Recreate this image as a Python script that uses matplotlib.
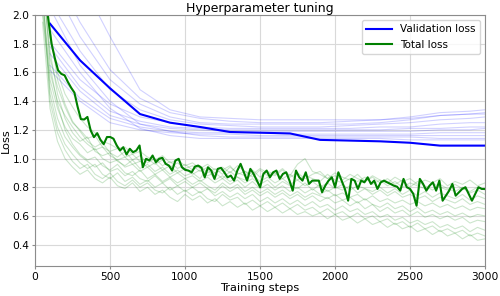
import matplotlib
matplotlib.use("Agg")
import matplotlib.pyplot as plt
import numpy as np

# validation loss, evaluated every 200 steps
val_steps = [100, 300, 500, 700, 900, 1100, 1300, 1500, 1700, 1900, 2100, 2300, 2500, 2700, 2900, 3000]
val_best = [1.94, 1.685, 1.49, 1.31, 1.25, 1.22, 1.185, 1.18, 1.175, 1.13, 1.125, 1.12, 1.11, 1.09, 1.09, 1.09]
val_runs = [
    [2.35, 1.95, 1.62, 1.42, 1.32, 1.28, 1.26, 1.25, 1.25, 1.25, 1.26, 1.27, 1.29, 1.32, 1.33, 1.34],
    [2.25, 1.85, 1.55, 1.38, 1.29, 1.25, 1.24, 1.24, 1.24, 1.24, 1.24, 1.25, 1.27, 1.30, 1.31, 1.32],
    [2.10, 1.75, 1.48, 1.34, 1.27, 1.24, 1.23, 1.22, 1.22, 1.22, 1.23, 1.24, 1.25, 1.27, 1.28, 1.29],
    [1.81, 1.55, 1.38, 1.29, 1.25, 1.22, 1.21, 1.21, 1.21, 1.21, 1.21, 1.22, 1.22, 1.24, 1.25, 1.25],
    [1.78, 1.50, 1.33, 1.26, 1.22, 1.21, 1.20, 1.20, 1.20, 1.20, 1.20, 1.20, 1.21, 1.21, 1.22, 1.22],
    [1.73, 1.47, 1.30, 1.24, 1.21, 1.20, 1.19, 1.19, 1.19, 1.19, 1.19, 1.19, 1.19, 1.20, 1.20, 1.21],
    [1.65, 1.42, 1.28, 1.22, 1.19, 1.18, 1.18, 1.18, 1.17, 1.17, 1.17, 1.17, 1.17, 1.18, 1.18, 1.18],
    [1.615, 1.40, 1.25, 1.20, 1.18, 1.17, 1.17, 1.16, 1.16, 1.16, 1.16, 1.16, 1.16, 1.16, 1.16, 1.16],
    [2.05, 1.65, 1.40, 1.24, 1.19, 1.16, 1.15, 1.15, 1.15, 1.15, 1.15, 1.15, 1.15, 1.14, 1.14, 1.14],
    [1.90, 1.60, 1.35, 1.21, 1.16, 1.14, 1.14, 1.14, 1.14, 1.14, 1.14, 1.14, 1.13, 1.13, 1.13, 1.13],
    [2.70, 2.25, 1.85, 1.48, 1.34, 1.29, 1.28, 1.27, 1.27, 1.27, 1.27, 1.27, 1.28, 1.30, 1.31, 1.31],
]

# total loss of the selected run
total_best = [
    2.15, 1.97, 1.80, 1.70, 1.615, 1.59, 1.58, 1.534, 1.494, 1.46, 1.36, 1.275, 1.272, 1.29, 1.196,
    1.149, 1.177, 1.13, 1.10, 1.15, 1.15,
    1.138, 1.091, 1.056, 1.079, 1.028, 1.068, 1.044, 1.056, 1.091, 0.939, 0.998, 0.986, 1.021, 0.974,
    0.998, 1.005, 0.963, 0.951, 0.916, 0.986, 0.998, 0.939, 0.921,
    0.916, 0.904, 0.944, 0.951, 0.935, 0.869, 0.939, 0.916, 0.858, 0.928, 0.935, 0.904, 0.869, 0.881,
    0.846, 0.916, 0.963, 0.904, 0.846, 0.928, 0.893, 0.846, 0.80,
    0.893, 0.916, 0.869, 0.904, 0.916, 0.858, 0.893, 0.904, 0.846, 0.776, 0.916, 0.869, 0.846, 0.904,
    0.823, 0.846, 0.846, 0.846, 0.765, 0.811, 0.846, 0.869, 0.80,
    0.904, 0.846, 0.788, 0.706, 0.858, 0.846, 0.788, 0.846, 0.834, 0.869, 0.823, 0.846, 0.788, 0.834,
    0.846, 0.834, 0.823, 0.811, 0.804, 0.776, 0.858, 0.80, 0.788,
    0.753, 0.671, 0.858, 0.823, 0.776, 0.811, 0.834, 0.776, 0.846, 0.706, 0.741, 0.776, 0.823, 0.741,
    0.765, 0.788, 0.80, 0.753, 0.706, 0.753, 0.80, 0.788, 0.788,
]
total_steps = np.linspace(67, 3000, len(total_best))

# total loss of the other runs, logged every 50 steps
run_steps = list(range(50, 3001, 50))
total_runs = [
    [2.40, 1.85, 1.60, 1.45, 1.36, 1.28, 1.22, 1.18, 1.12, 1.10, 1.07, 1.08, 1.03, 1.05, 1.01, 0.99, 1.02, 0.97, 0.99, 0.95,
     0.97, 0.93, 0.96, 0.92, 0.94, 0.90, 0.95, 0.91, 0.89, 0.93, 0.90, 0.88, 0.92, 0.87, 0.90, 0.86, 0.89, 0.91, 0.86, 0.88,
     0.85, 0.89, 0.86, 0.84, 0.88, 0.85, 0.83, 0.87, 0.84, 0.86, 0.82, 0.85, 0.83, 0.86, 0.81, 0.84, 0.82, 0.85, 0.81, 0.83],
    [2.25, 1.70, 1.50, 1.36, 1.25, 1.20, 1.14, 1.16, 1.08, 1.05, 1.07, 1.01, 1.03, 0.98, 1.00, 0.96, 0.99, 0.94, 0.97, 0.93,
     0.95, 0.91, 0.94, 0.90, 0.92, 0.95, 0.89, 0.91, 0.87, 0.92, 0.88, 0.90, 0.86, 0.89, 0.85, 0.88, 0.86, 0.84, 0.89, 0.85,
     0.83, 0.86, 0.84, 0.87, 0.82, 0.85, 0.81, 0.84, 0.80, 0.83, 0.81, 0.79, 0.83, 0.80, 0.78, 0.82, 0.79, 0.77, 0.80, 0.78],
    [2.10, 1.60, 1.40, 1.30, 1.22, 1.15, 1.10, 1.06, 1.08, 1.02, 0.99, 1.01, 0.96, 0.98, 0.94, 0.97, 0.92, 0.95, 0.90, 0.93,
     0.89, 0.92, 0.88, 0.90, 0.86, 0.91, 0.87, 0.85, 0.89, 0.84, 0.87, 0.83, 0.86, 0.82, 0.85, 0.81, 0.84, 0.80, 0.83, 0.79,
     0.82, 0.78, 0.81, 0.79, 0.77, 0.80, 0.76, 0.79, 0.75, 0.78, 0.74, 0.77, 0.73, 0.76, 0.74, 0.72, 0.75, 0.71, 0.74, 0.72],
    [2.30, 1.75, 1.45, 1.28, 1.18, 1.12, 1.15, 1.05, 1.02, 1.04, 0.98, 0.95, 0.99, 0.93, 0.96, 0.91, 0.94, 0.89, 0.92, 0.88,
     0.90, 0.86, 0.93, 0.85, 0.88, 0.84, 0.87, 0.83, 0.86, 0.82, 0.85, 0.80, 0.84, 0.81, 0.79, 0.83, 0.78, 0.82, 0.77, 0.80,
     0.78, 0.81, 0.76, 0.79, 0.75, 0.78, 0.74, 0.77, 0.73, 0.75, 0.72, 0.74, 0.70, 0.73, 0.71, 0.69, 0.72, 0.68, 0.70, 0.68],
    [2.00, 1.55, 1.35, 1.22, 1.14, 1.10, 1.04, 1.07, 1.00, 0.97, 0.99, 0.94, 0.96, 0.91, 0.94, 0.89, 0.92, 0.87, 0.90, 0.86,
     0.88, 0.84, 0.87, 0.83, 0.86, 0.82, 0.85, 0.80, 0.84, 0.79, 0.82, 0.78, 0.81, 0.77, 0.80, 0.76, 0.79, 0.75, 0.78, 0.74,
     0.76, 0.73, 0.75, 0.71, 0.74, 0.70, 0.72, 0.69, 0.71, 0.68, 0.70, 0.67, 0.69, 0.66, 0.68, 0.65, 0.67, 0.64, 0.66, 0.65],
    [2.35, 1.65, 1.38, 1.20, 1.10, 1.03, 0.99, 1.01, 0.95, 0.92, 0.96, 0.90, 0.88, 0.92, 0.86, 0.89, 0.84, 0.87, 0.83, 0.86,
     0.82, 0.85, 0.81, 0.78, 0.83, 0.79, 0.82, 0.77, 0.80, 0.76, 0.79, 0.75, 0.78, 0.74, 0.77, 0.73, 0.76, 0.74, 0.72, 0.75,
     0.71, 0.73, 0.69, 0.72, 0.68, 0.66, 0.69, 0.65, 0.67, 0.63, 0.66, 0.62, 0.64, 0.61, 0.63, 0.60, 0.62, 0.59, 0.61, 0.60],
    [2.15, 1.50, 1.28, 1.15, 1.08, 1.02, 0.98, 0.94, 0.97, 0.91, 0.93, 0.88, 0.91, 0.86, 0.84, 0.88, 0.83, 0.86, 0.81, 0.84,
     0.80, 0.83, 0.79, 0.76, 0.81, 0.77, 0.80, 0.75, 0.78, 0.74, 0.77, 0.73, 0.76, 0.72, 0.75, 0.71, 0.74, 0.70, 0.73, 0.69,
     0.71, 0.67, 0.70, 0.65, 0.68, 0.63, 0.66, 0.62, 0.64, 0.60, 0.63, 0.59, 0.61, 0.58, 0.60, 0.57, 0.59, 0.55, 0.57, 0.56],
    [2.05, 1.45, 1.22, 1.10, 1.03, 0.97, 0.93, 0.96, 0.89, 0.86, 0.90, 0.84, 0.87, 0.82, 0.85, 0.80, 0.83, 0.78, 0.81, 0.77,
     0.80, 0.76, 0.79, 0.74, 0.77, 0.73, 0.76, 0.72, 0.75, 0.70, 0.73, 0.69, 0.72, 0.68, 0.71, 0.67, 0.70, 0.66, 0.68, 0.64,
     0.67, 0.63, 0.65, 0.61, 0.63, 0.59, 0.61, 0.57, 0.59, 0.55, 0.57, 0.54, 0.56, 0.52, 0.54, 0.51, 0.53, 0.49, 0.52, 0.50],
    [2.20, 1.40, 1.18, 1.06, 0.98, 0.93, 0.96, 0.89, 0.86, 0.90, 0.84, 0.81, 0.85, 0.80, 0.83, 0.78, 0.76, 0.80, 0.75, 0.78,
     0.74, 0.77, 0.72, 0.70, 0.75, 0.71, 0.73, 0.68, 0.71, 0.67, 0.70, 0.66, 0.69, 0.65, 0.68, 0.64, 0.66, 0.62, 0.65, 0.61,
     0.63, 0.59, 0.62, 0.58, 0.60, 0.56, 0.58, 0.54, 0.56, 0.52, 0.55, 0.51, 0.53, 0.49, 0.51, 0.48, 0.50, 0.46, 0.48, 0.46],
    [1.95, 1.35, 1.12, 1.00, 0.94, 0.89, 0.92, 0.86, 0.83, 0.87, 0.81, 0.79, 0.83, 0.77, 0.80, 0.75, 0.78, 0.73, 0.70, 0.75,
     0.71, 0.74, 0.69, 0.72, 0.67, 0.70, 0.66, 0.69, 0.64, 0.67, 0.63, 0.66, 0.62, 0.65, 0.61, 0.63, 0.60, 0.62, 0.58, 0.61,
     0.57, 0.59, 0.55, 0.58, 0.54, 0.56, 0.52, 0.55, 0.51, 0.53, 0.49, 0.51, 0.47, 0.50, 0.46, 0.48, 0.44, 0.47, 0.43, 0.44],
    [2.50, 1.90, 1.55, 1.38, 1.26, 1.19, 1.12, 1.08, 1.11, 1.04, 1.01, 1.05, 0.99, 1.02, 0.97, 1.00, 0.95, 0.98, 0.93, 0.96,
     0.92, 0.95, 0.90, 0.93, 0.89, 0.94, 0.90, 0.88, 0.92, 0.87, 0.91, 0.89, 0.93, 0.88, 0.96, 1.00, 0.91, 0.89, 0.86, 0.90,
     0.87, 0.85, 0.89, 0.84, 0.87, 0.83, 0.86, 0.82, 0.85, 0.80, 0.84, 0.81, 0.78, 0.82, 0.79, 0.77, 0.80, 0.76, 0.78, 0.75],
]

fig = plt.figure(figsize=(5, 2.96), dpi=100)
ax = fig.add_axes([0.07, 0.101, 0.90, 0.848])

for run in val_runs:
    ax.plot(val_steps, run, color="blue", alpha=0.18, lw=0.8)
for run in total_runs:
    ax.plot(run_steps, run, color="green", alpha=0.2, lw=0.8)

ax.plot(val_steps, val_best, color="blue", lw=1.5, label="Validation loss")
ax.plot(total_steps, total_best, color="green", lw=1.5, label="Total loss")

ax.set_xlim(0, 3000)
ax.set_ylim(0.25, 2.0)
ax.set_xticks([0, 500, 1000, 1500, 2000, 2500, 3000])
ax.set_yticks([0.4, 0.6, 0.8, 1.0, 1.2, 1.4, 1.6, 1.8, 2.0])
ax.grid(True, color="0.85", lw=0.8)
ax.set_axisbelow(True)
for s in ax.spines.values():
    s.set_color("0.55")
ax.tick_params(labelsize=7.7, color="0.55", length=2, pad=2)
ax.set_xlabel("Training steps", fontsize=8.2, labelpad=1)
ax.set_ylabel("Loss", fontsize=8.2, labelpad=1)
ax.set_title("Hyperparameter tuning", fontsize=9, pad=2)
ax.legend(loc="upper right", fontsize=7.5, handlelength=2.5)

fig.savefig("out.png", dpi=100)
